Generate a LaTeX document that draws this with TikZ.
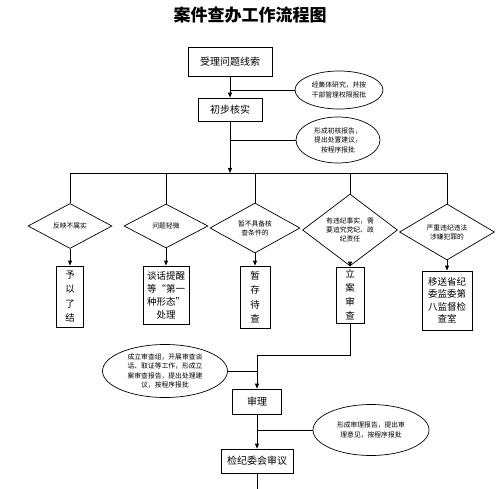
\documentclass[tikz,border=0pt]{standalone}
\usepackage{fontspec}
\newfontfamily\cjk{Noto Sans CJK SC}
\usetikzlibrary{shapes.geometric, arrows.meta, positioning, calc}

\begin{document}
\begin{tikzpicture}[x=1pt, y=-1pt,
    proc/.style 2 args={draw, line width=0.8pt, inner sep=0pt, align=center,
                        minimum width=#1, minimum height=#2},
    judge/.style 2 args={diamond, draw, line width=0.7pt, inner sep=0pt, align=center,
                         minimum width=#1, minimum height=#2,
                         font=\cjk\fontsize{6.8}{9}\selectfont},
    note/.style 2 args={ellipse, draw, line width=0.7pt, inner sep=0pt, align=center,
                        minimum width=#1, minimum height=#2,
                        font=\cjk\fontsize{6.8}{9.5}\selectfont},
    bigtext/.style={font=\cjk\fontsize{10}{12}\selectfont},
    coltext/.style={font=\cjk\fontsize{9.5}{#1}\selectfont},
    flow/.style={-{Triangle[length=5pt,width=4pt]}, line width=0.8pt},
    link/.style={line width=0.8pt}
]
    \useasboundingbox (0,0) rectangle (500,489);

    % Title
    \node[font=\cjk\bfseries\fontsize{17}{17}\selectfont] (title) at (250,15) {案件查办工作流程图};

    % Upper part
    \node[proc={84pt}{29pt}, bigtext] (accept) at (230,61.5) {受理问题线索};
    \node[proc={64pt}{23pt}, bigtext] (verify) at (230,109.5) {初步核实};
    \node[note={88pt}{38pt}] (e1) at (339,90) {经集体研究，并按\\干部管理权限报批};
    \node[note={84pt}{46pt}] (e2) at (338,140) {形成初核报告，\\提出处置建议，\\按程序报批};
    \coordinate (split) at (230,173);

    % Judgements
    \node[judge={84pt}{45pt}] (d1) at (70,226) {反映不属实};
    \node[judge={84pt}{44pt}] (d2) at (166,226) {问题轻微};
    \node[judge={90pt}{50pt}] (d3) at (255,228) {暂不具备核\\查条件的};
    \node[judge={95pt}{53pt}] (d4) at (350,230) {有违纪事实，需\\要追究党纪、政\\纪责任};
    \node[judge={95pt}{50pt}] (d5) at (447,232) {严重违纪违法\\涉嫌犯罪的};

    % Results
    \node[proc={27pt}{61pt}, coltext=14.5pt] (b1) at (70,296.5) {予\\以\\了\\结};
    \node[proc={46pt}{58pt}, coltext=13pt] (b2) at (166,295) {谈话提醒\\等“第一\\种形态”\\处理};
    \node[proc={30pt}{62pt}, coltext=14.5pt] (b3) at (255,297) {暂\\存\\待\\查};
    \node[proc={28pt}{56pt}, coltext=14pt] (b4) at (350,295) {立\\案\\审\\查};
    \node[proc={50pt}{59pt}, coltext=12.5pt] (b5) at (447,300.5) {移送省纪\\委监委第\\八监督检\\查室};

    % Lower part
    \coordinate (turn) at (350,355);
    \node[note={125pt}{53pt}] (e3) at (165,371) {成立审查组，开展审查谈\\话、取证等工作，形成立\\案审查报告，提出处理建\\议，按程序报批};
    \node[proc={49pt}{25pt}, bigtext] (trial) at (257,401.5) {审理};
    \node[note={116pt}{51pt}] (e4) at (371,430) {形成审理报告，提出审\\理意见，按程序报批};
    \node[proc={72pt}{24pt}, bigtext] (board) at (257,461) {检纪委会审议};
    \coordinate (bottom) at (257,489);

    % Connectors
    \draw[flow] (accept) -- (verify);
    \draw[link] (e1.west) -- (e1.west -| accept);
    \draw[flow] (verify) -- (split);
    \draw[link] (e2.west) -- (e2.west -| verify);
    \draw[link] (d1.north |- split) -- (d5.north |- split);
    \foreach \i in {1,...,5} {
        \draw[link] (d\i.north |- split) -- (d\i.north);
        \draw[flow] (d\i.south) -- (b\i.north);
    }
    \draw[flow] (b4.south) -- (turn) -| (trial.north);
    \draw[link] (e3.east) -- (e3.east -| trial);
    \draw[flow] (trial) -- (board);
    \draw[link] (e4.west) -- (e4.west -| trial);
    \draw[link] (board) -- (bottom);
\end{tikzpicture}
\end{document}
